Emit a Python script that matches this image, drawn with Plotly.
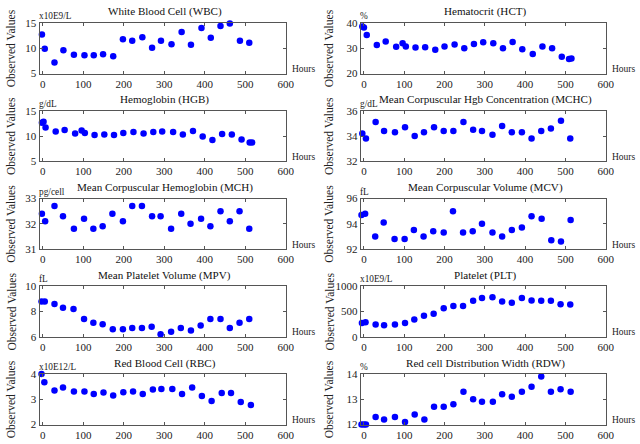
import plotly.graph_objects as go

# ---------------- data ----------------
titles = ["White Blood Cell (WBC)", "Hematocrit (HCT)", "Hemoglobin (HGB)",
          "Mean Corpuscular Hgb Concentration (MCHC)", "Mean Corpuscular Hemoglobin (MCH)",
          "Mean Corpuscular Volume (MCV)", "Mean Platelet Volume (MPV)", "Platelet (PLT)",
          "Red Blood Cell (RBC)", "Red cell Distribution Width (RDW)"]
units = ["x10E9/L", "%", "g/dL", "g/dL", "pg/cell", "fL", "fL", "x10E9/L", "x10E12/L", "%"]

wbc_t = [-2, 5, 29, 51, 77, 103, 126, 149, 174, 198, 221, 246, 270, 292, 318, 343, 366, 392, 415, 439, 462, 487, 510]
wbc_v = [12.7, 9.9, 7.2, 9.6, 8.7, 8.6, 8.6, 8.8, 8.4, 11.8, 11.5, 12.2, 10.1, 11.5, 10.8, 13.2, 10.7, 14.0, 12.1, 14.4, 14.9, 11.5, 11.1]

hct_t = [-4, 0, 7, 32, 54, 80, 96, 104, 128, 152, 177, 200, 225, 249, 273, 296, 321, 345, 369, 393, 419, 443, 467, 491, 509, 515]
hct_v = [38.6, 38.2, 35.2, 31.3, 32.7, 30.6, 32.0, 30.7, 30.3, 30.4, 29.4, 30.7, 31.5, 30.0, 31.7, 32.4, 32.0, 30.0, 32.5, 29.6, 27.7, 30.7, 30.0, 26.6, 25.7, 25.9]

hgb_t = [-2, 2, 7, 32, 54, 80, 96, 104, 128, 152, 176, 199, 224, 249, 273, 295, 322, 346, 371, 395, 419, 443, 467, 491, 511, 517]
hgb_v = [12.6, 12.8, 11.7, 10.9, 11.2, 10.5, 11.1, 10.6, 10.2, 10.3, 10.2, 10.6, 10.8, 10.5, 10.8, 10.9, 10.8, 10.3, 11.0, 9.9, 9.2, 10.4, 10.3, 9.3, 8.7, 8.7]

mchc_t = [-4, 5, 29, 50, 77, 102, 126, 149, 174, 198, 222, 247, 271, 293, 319, 343, 367, 392, 416, 440, 464, 489, 512]
mchc_v = [34.2, 33.8, 35.1, 34.4, 34.3, 34.7, 34.0, 34.3, 34.7, 34.4, 34.4, 35.1, 34.5, 34.4, 34.1, 34.8, 34.3, 34.3, 33.8, 34.4, 34.6, 35.2, 33.8]

mch_t = [-2, 6, 29, 50, 77, 102, 125, 148, 172, 198, 221, 245, 270, 291, 317, 342, 365, 391, 414, 439, 462, 486, 510]
mch_v = [32.4, 32.1, 32.7, 32.3, 31.8, 32.2, 31.8, 31.9, 32.4, 32.1, 32.7, 32.7, 32.3, 32.3, 31.8, 32.4, 32.0, 32.2, 31.9, 32.5, 32.1, 32.5, 31.8]

mcv_t = [-6, 3, 28, 49, 76, 101, 124, 148, 172, 198, 221, 246, 270, 293, 319, 343, 367, 392, 416, 441, 465, 489, 513]
mcv_v = [94.7, 94.8, 93.0, 94.1, 92.8, 92.8, 93.5, 93.0, 93.4, 93.3, 95.0, 93.3, 93.4, 94.0, 93.3, 93.0, 93.5, 93.7, 94.6, 94.4, 92.7, 92.6, 94.3]

mpv_t = [-3, 5, 29, 50, 76, 102, 125, 148, 173, 198, 221, 245, 269, 291, 317, 341, 366, 390, 414, 439, 462, 486, 510]
mpv_v = [8.8, 8.8, 8.6, 8.3, 8.2, 7.4, 7.1, 7.0, 6.6, 6.6, 6.7, 6.7, 6.8, 6.2, 6.4, 6.7, 6.5, 6.9, 7.4, 7.4, 6.7, 7.1, 7.4]

plt_t = [-5, 4, 29, 50, 77, 102, 125, 149, 173, 198, 222, 246, 271, 293, 319, 343, 367, 392, 416, 440, 464, 488, 512]
plt_v = [270, 285, 245, 230, 245, 270, 340, 415, 455, 565, 610, 610, 715, 765, 780, 700, 675, 765, 720, 715, 715, 645, 640]

rbc_t = [-3, 4, 29, 50, 77, 103, 126, 150, 174, 199, 223, 247, 272, 293, 320, 344, 369, 393, 417, 442, 465, 489, 514]
rbc_v = [4.0, 3.67, 3.35, 3.47, 3.31, 3.31, 3.21, 3.27, 3.15, 3.28, 3.31, 3.21, 3.39, 3.41, 3.41, 3.21, 3.47, 3.13, 2.93, 3.25, 3.25, 2.89, 2.77]

rdw_t = [-6, 0, 5, 29, 50, 77, 102, 126, 150, 174, 198, 222, 247, 271, 293, 320, 343, 367, 392, 416, 440, 464, 488, 513]
rdw_v = [12.0, 12.0, 12.0, 12.3, 12.2, 12.3, 12.1, 12.4, 12.2, 12.7, 12.7, 12.8, 13.3, 13.0, 12.9, 12.9, 13.2, 13.1, 13.3, 13.5, 13.9, 13.3, 13.4, 13.3]

y_ranges = [[5, 15], [20, 40], [5, 15], [32, 36], [31, 33], [92, 96], [6, 10], [0, 1000], [2, 4], [12, 14]]
y_ticks = [[5, 10, 15], [20, 30, 40], [5, 10, 15], [32, 34, 36], [31, 32, 33], [92, 94, 96], [6, 8, 10], [0, 500, 1000], [2, 3, 4], [12, 13, 14]]
x_ticks = [0, 100, 200, 300, 400, 500, 600]
x_range = [-8, 600]

series = [(wbc_t, wbc_v), (hct_t, hct_v), (hgb_t, hgb_v), (mchc_t, mchc_v), (mch_t, mch_v),
          (mcv_t, mcv_v), (mpv_t, mpv_v), (plt_t, plt_v), (rbc_t, rbc_v), (rdw_t, rdw_v)]

# ---------------- layout geometry (pixels) ----------------
W, H = 640, 444
col_x = [(39.5, 285.7), (360.7, 605.7)]
row_top0, row_step, row_h = 23.0, 87.75, 50.5
ylab_x = [11, 329]

FONT = "Liberation Serif"
fig = go.Figure()
layout = dict(width=W, height=H, margin=dict(l=0, r=0, t=0, b=0, autoexpand=False),
              paper_bgcolor="white", plot_bgcolor="white", showlegend=False,
              font=dict(family=FONT, color="#222222"))
annotations = []

for i, (t, v) in enumerate(series):
    r, c = divmod(i, 2)
    x0, x1 = col_x[c]
    top = row_top0 + r * row_step
    bot = top + row_h
    n = i + 1
    xa = "xaxis" if n == 1 else f"xaxis{n}"
    ya = "yaxis" if n == 1 else f"yaxis{n}"
    xr = "x" if n == 1 else f"x{n}"
    yr = "y" if n == 1 else f"y{n}"
    fig.add_trace(go.Scatter(x=t, y=v, mode="markers", xaxis=xr, yaxis=yr,
                             cliponaxis=False,
                             marker=dict(color="#0000ff", size=6.5, line=dict(width=0))))
    common = dict(showline=True, linecolor="#555555", linewidth=1, mirror="ticks",
                  ticks="inside", ticklen=3, tickcolor="#555555", showgrid=False,
                  zeroline=False, automargin=False,
                  tickfont=dict(family=FONT, size=11, color="#222222"))
    layout[xa] = dict(domain=[x0 / W, x1 / W], anchor=yr, range=x_range,
                      tickvals=x_ticks, ticktext=[str(k) for k in x_ticks], **common)
    layout[ya] = dict(domain=[1 - bot / H, 1 - top / H], anchor=xr, range=y_ranges[i],
                      tickvals=y_ticks[i], ticktext=[str(k) for k in y_ticks[i]], **common)
    # title
    annotations.append(dict(x=(x0 + x1) / 2 / W + 2 / W, y=1 - (top - 11) / H, xref="paper", yref="paper",
                            text=titles[i], showarrow=False, xanchor="center", yanchor="middle",
                            font=dict(family=FONT, size=11.1, color="#111111")))
    # unit
    annotations.append(dict(x=(x0 - 2.5) / W, y=1 - (top - 7) / H, xref="paper", yref="paper",
                            text=units[i], showarrow=False, xanchor="left", yanchor="middle",
                            font=dict(family=FONT, size=9.3, color="#222222")))
    # Hours
    annotations.append(dict(x=(x1 + 4) / W, y=1 - (bot - 4.5) / H, xref="paper", yref="paper",
                            text="Hours", showarrow=False, xanchor="left", yanchor="middle",
                            font=dict(family=FONT, size=9.5, color="#222222")))
    # y label
    annotations.append(dict(x=ylab_x[c] / W, y=1 - (top + bot) / 2 / H, xref="paper", yref="paper",
                            text="Observed Values", showarrow=False, textangle=-90,
                            xanchor="center", yanchor="middle",
                            font=dict(family=FONT, size=11.5, color="#222222")))

layout["annotations"] = annotations
fig.update_layout(**layout)
fig.write_html("out.html", config={"displayModeBar": False},
               post_script="document.body.style.margin='0px';")
